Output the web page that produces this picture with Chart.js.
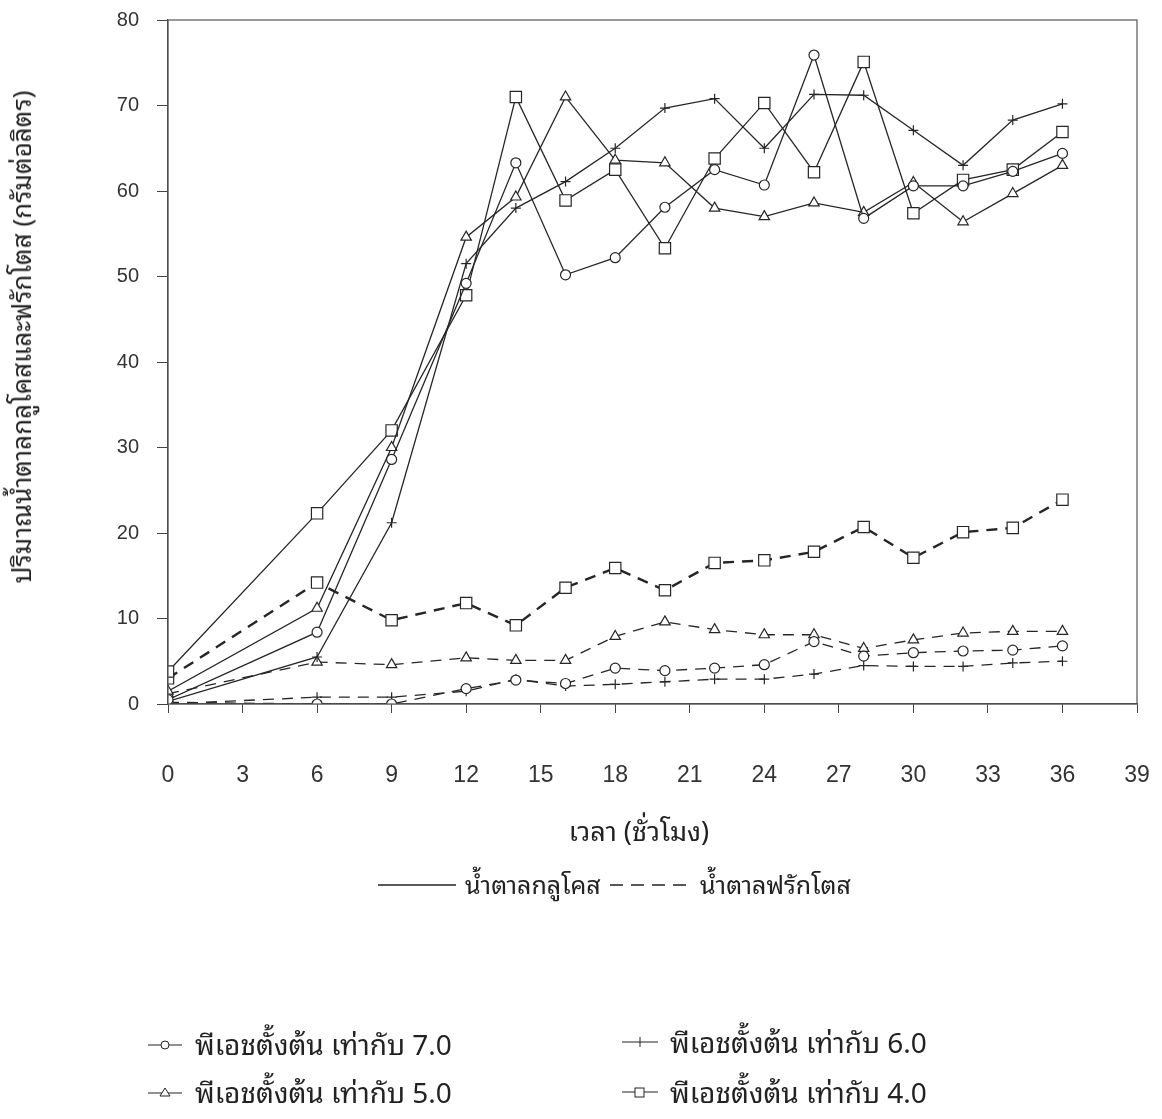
<!DOCTYPE html>
<html>
<head>
<meta charset="utf-8">
<script src="https://cdn.jsdelivr.net/npm/chart.js@4"></script>
<style>
  body { margin: 0; background: #fff; }
  #wrap { position: relative; width: 1162px; height: 1119px; }
  #chart { position: absolute; left: 0; top: 0; }
  .th { position: absolute; font-family: "Noto Sans Thai Looped", "Noto Serif Thai", "Norasi", "Garuda", "Loma", "Noto Sans Thai", sans-serif; color: #222; white-space: nowrap; line-height: 1; }
  #ytitle { left: 19px; top: 337px; font-size: 26px; transform: translate(-50%, -50%) rotate(-90deg); }
  #xtitle { left: 639px; top: 828px; font-size: 27px; transform: translate(-50%, -50%); }
  .mid { transform: translateY(-50%); }
  .sym { position: absolute; transform: translateY(-50%); }
  .leg1 { font-size: 25px; }
  .leg2 { font-size: 28px; }
</style>
</head>
<body>
<div id="wrap">
  <canvas id="chart" width="1162" height="1119"></canvas>
  <div class="th" id="ytitle">ปริมาณน้ำตาลกลูโคสและฟรักโตส (กรัมต่อลิตร)</div>
  <div class="th" id="xtitle">เวลา (ชั่วโมง)</div>

  <svg class="sym" style="left:378px; top:885px;" width="80" height="10"><line x1="0" y1="5" x2="78" y2="5" stroke="#222" stroke-width="1.6"/></svg>
  <div class="th mid leg1" style="left:465px; top:883px;">น้ำตาลกลูโคส</div>
  <svg class="sym" style="left:610px; top:885px;" width="82" height="10"><line x1="0" y1="5" x2="80" y2="5" stroke="#222" stroke-width="1.6" stroke-dasharray="13,8"/></svg>
  <div class="th mid leg1" style="left:700px; top:883px;">น้ำตาลฟรักโตส</div>

  <svg class="sym" style="left:148px; top:1045px;" width="36" height="14"><line x1="0" y1="7" x2="34" y2="7" stroke="#222"/><circle cx="17" cy="7" r="4" fill="#fff" stroke="#222"/></svg>
  <div class="th mid leg2" style="left:195px; top:1043px;">พีเอชตั้งต้น เท่ากับ 7.0</div>
  <svg class="sym" style="left:622px; top:1042px;" width="38" height="14"><line x1="0" y1="7" x2="36" y2="7" stroke="#222"/><line x1="18" y1="2" x2="18" y2="12" stroke="#222"/></svg>
  <div class="th mid leg2" style="left:670px; top:1041px;">พีเอชตั้งต้น เท่ากับ 6.0</div>
  <svg class="sym" style="left:148px; top:1093px;" width="36" height="14"><line x1="0" y1="7" x2="34" y2="7" stroke="#222"/><polygon points="17,2 22,10 12,10" fill="#fff" stroke="#222"/></svg>
  <div class="th mid leg2" style="left:195px; top:1091px;">พีเอชตั้งต้น เท่ากับ 5.0</div>
  <svg class="sym" style="left:622px; top:1092px;" width="38" height="14"><line x1="0" y1="7" x2="36" y2="7" stroke="#222"/><rect x="13" y="3" width="9" height="9" fill="#fff" stroke="#222"/></svg>
  <div class="th mid leg2" style="left:670px; top:1091px;">พีเอชตั้งต้น เท่ากับ 4.0</div>
</div>

<script>
// sampling times (hours)
var hours = [0, 6, 9, 12, 14, 16, 18, 20, 22, 24, 26, 28, 30, 32, 34, 36];

// glucose, g/L
var glcPH7 = [0.5, 8.4, 28.6, 49.2, 63.3, 50.2, 52.2, 58.1, 62.5, 60.7, 75.9, 56.8, 60.6, 60.6, 62.3, 64.4];
var glcPH6 = [0.3, 5.5, 21.2, 51.5, 58.0, 61.1, 65.0, 69.7, 70.8, 65.0, 71.3, 71.2, 67.1, 63.0, 68.3, 70.2];
var glcPH5 = [1.5, 11.2, 30.0, 54.6, 59.3, 71.0, 63.6, 63.3, 58.0, 57.0, 58.6, 57.5, 61.0, 56.4, 59.7, 63.0];
var glcPH4 = [3.8, 22.3, 32.0, 47.8, 71.0, 58.9, 62.5, 53.3, 63.8, 70.3, 62.2, 75.1, 57.4, 61.3, 62.5, 66.9];

// fructose, g/L
var fruPH7 = [0.2, 0.0, 0.0, 1.8, 2.8, 2.4, 4.2, 3.9, 4.2, 4.6, 7.3, 5.6, 6.0, 6.2, 6.3, 6.8];
var fruPH6 = [0.0, 0.8, 0.8, 1.5, 2.9, 2.1, 2.3, 2.6, 2.9, 2.9, 3.5, 4.5, 4.4, 4.4, 4.8, 5.0];
var fruPH5 = [1.2, 4.9, 4.6, 5.4, 5.1, 5.1, 7.9, 9.6, 8.7, 8.1, 8.1, 6.5, 7.5, 8.3, 8.5, 8.5];
var fruPH4 = [3.0, 14.2, 9.8, 11.8, 9.2, 13.6, 15.9, 13.3, 16.5, 16.8, 17.8, 20.7, 17.1, 20.1, 20.6, 23.9];

var ink = '#262626';

function pts(vals) {
    return vals.map(function(v, i) { return { x: hours[i], y: v }; });
}

function series(label, vals, style, radius, dashed, width) {
    return {
        label: label,
        data: pts(vals),
        borderColor: ink,
        borderWidth: width || 1.3,
        borderDash: dashed ? [11, 8] : [],
        pointStyle: style,
        pointRadius: radius,
        pointBorderWidth: 1.2,
        pointBorderColor: ink,
        pointBackgroundColor: '#fff',
        tension: 0,
        fill: false
    };
}

// frame round the plot area
var frame = {
    id: 'frame',
    afterDraw: function(chart) {
        var a = chart.chartArea, c = chart.ctx;
        c.save();
        c.strokeStyle = '#555';
        c.lineWidth = 1.2;
        c.strokeRect(a.left, a.top, a.right - a.left, a.bottom - a.top);
        c.restore();
    }
};

var ctx = document.getElementById('chart');
var sugarChart = new Chart(ctx, {
    type: 'line',
    data: {
        datasets: [
            series('glc 7.0', glcPH7, 'circle', 5, false),
            series('glc 6.0', glcPH6, 'cross', 5, false),
            series('glc 5.0', glcPH5, 'triangle', 6, false),
            series('glc 4.0', glcPH4, 'rect', 8, false),
            series('fru 7.0', fruPH7, 'circle', 5, true),
            series('fru 6.0', fruPH6, 'cross', 5, true),
            series('fru 5.0', fruPH5, 'triangle', 6, true),
            series('fru 4.0', fruPH4, 'rect', 8, true, 2.4)
        ]
    },
    options: {
        responsive: false,
        animation: false,
        layout: { padding: { top: 20, right: 25, bottom: 0, left: 0 } },
        plugins: {
            legend: { display: false },
            tooltip: { enabled: false }
        },
        scales: {
            x: {
                type: 'linear',
                min: 0,
                max: 39,
                ticks: {
                    stepSize: 3,
                    padding: 49,
                    color: '#333',
                    font: { family: '"Liberation Sans Narrow", "Liberation Sans", Arial, sans-serif', size: 23 }
                },
                grid: { drawOnChartArea: false, tickLength: 9, color: '#444' },
                border: { color: '#444', width: 1.2 },
                afterFit: function(s) {
                    s.height = 1119 - 704;
                    s.paddingLeft = 0;
                    s.paddingRight = 0;
                }
            },
            y: {
                min: 0,
                max: 80,
                ticks: {
                    stepSize: 10,
                    padding: 18,
                    color: '#333',
                    font: { family: '"Liberation Sans", Arial, sans-serif', size: 20 }
                },
                grid: { drawOnChartArea: false, tickLength: 11, color: '#444' },
                border: { color: '#444', width: 1.2 },
                afterFit: function(s) {
                    s.width = 168;
                    s.paddingTop = 0;
                    s.paddingBottom = 0;
                }
            }
        }
    },
    plugins: [frame]
});
</script>
</body>
</html>
